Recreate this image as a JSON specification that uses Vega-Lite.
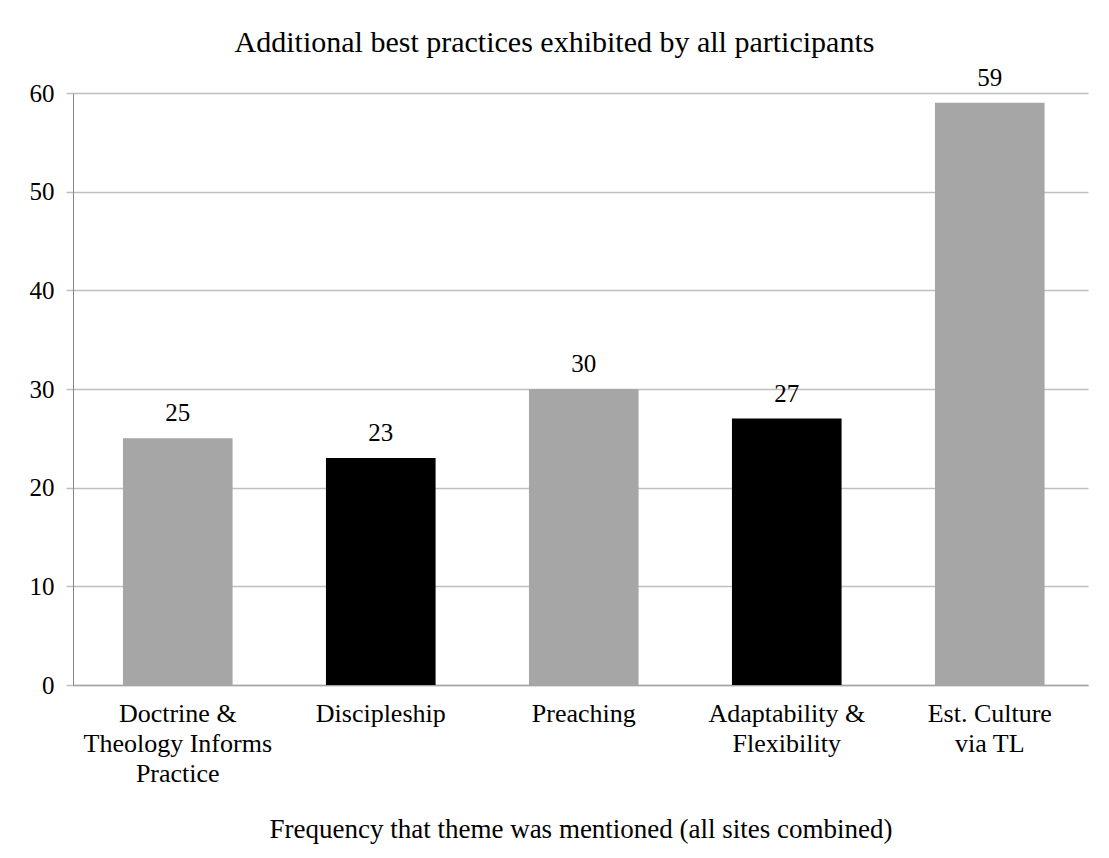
{
  "$schema": "https://vega.github.io/schema/vega-lite/v6.json",
  "width": 1015,
  "height": 592,
  "autosize": "none",
  "padding": {"left": 73, "top": 93, "right": 21, "bottom": 173},
  "background": "white",
  "config": {
    "font": "Liberation Serif",
    "view": {"stroke": null}
  },
  "title": {
    "text": "Additional best practices exhibited by all participants",
    "font": "Liberation Serif",
    "fontSize": 30,
    "fontWeight": "normal",
    "color": "black",
    "anchor": "middle",
    "offset": 8,
    "dx": -26
  },
  "data": {
    "values": [
      {"theme": "Doctrine & Theology Informs Practice", "count": 25},
      {"theme": "Discipleship", "count": 23},
      {"theme": "Preaching", "count": 30},
      {"theme": "Adaptability & Flexibility", "count": 27},
      {"theme": "Est. Culture via TL", "count": 59}
    ]
  },
  "encoding": {
    "x": {
      "field": "theme",
      "type": "nominal",
      "sort": null,
      "scale": {"paddingInner": 0.46, "paddingOuter": 0.23, "align": 0.535},
      "axis": {
        "title": "Frequency that theme was mentioned (all sites combined)",
        "titleFont": "Liberation Serif",
        "titleFontSize": 27,
        "titleFontWeight": "normal",
        "titleColor": "black",
        "titlePadding": 30,
        "labelAngle": 0,
        "labelFont": "Liberation Serif",
        "labelFontSize": 26,
        "labelColor": "black",
        "labelLineHeight": 30,
        "labelPadding": 15,
        "labelBaseline": "top",
        "labelLimit": 300,
        "ticks": false,
        "domainColor": "#a6a6a6",
        "domainWidth": 1.5,
        "labelExpr": "datum.value == 'Doctrine & Theology Informs Practice' ? ['Doctrine &', 'Theology Informs', 'Practice'] : datum.value == 'Adaptability & Flexibility' ? ['Adaptability &', 'Flexibility'] : datum.value == 'Est. Culture via TL' ? ['Est. Culture', 'via TL'] : datum.value"
      }
    },
    "y": {
      "field": "count",
      "type": "quantitative",
      "scale": {"domain": [0, 60], "nice": false},
      "axis": {
        "title": null,
        "values": [0, 10, 20, 30, 40, 50, 60],
        "grid": true,
        "gridColor": "#bfbfbf",
        "gridWidth": 1.5,
        "domainColor": "#868686",
        "domainWidth": 1,
        "tickColor": "#bfbfbf",
        "tickWidth": 1.5,
        "tickSize": 7,
        "labelFont": "Liberation Serif",
        "labelFontSize": 25,
        "labelColor": "black",
        "labelPadding": 12
      }
    }
  },
  "layer": [
    {
      "mark": {"type": "bar"},
      "encoding": {
        "color": {
          "field": "theme",
          "type": "nominal",
          "scale": {
            "domain": ["Doctrine & Theology Informs Practice", "Discipleship", "Preaching", "Adaptability & Flexibility", "Est. Culture via TL"],
            "range": ["#a6a6a6", "#000000", "#a6a6a6", "#000000", "#a6a6a6"]
          },
          "legend": null
        }
      }
    },
    {
      "mark": {"type": "text", "dy": -17, "baseline": "alphabetic", "font": "Liberation Serif", "fontSize": 25, "color": "black"},
      "encoding": {"text": {"field": "count", "type": "quantitative"}}
    }
  ]
}
